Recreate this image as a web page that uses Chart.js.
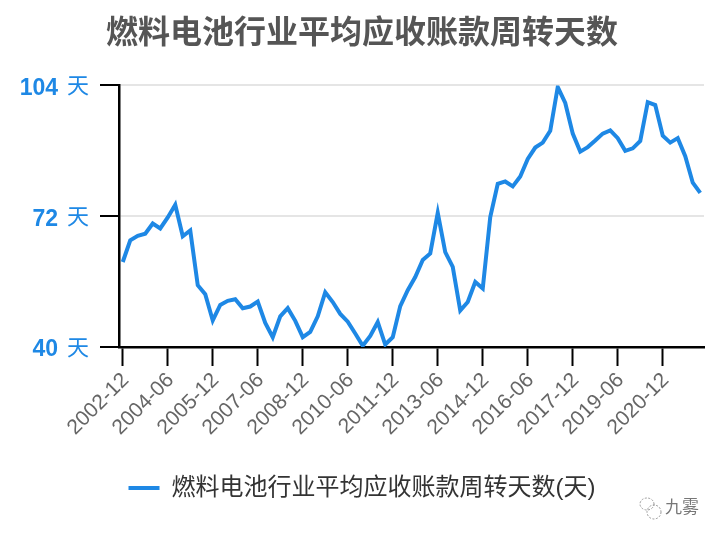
<!DOCTYPE html>
<html>
<head>
<meta charset="utf-8">
<title>燃料电池行业平均应收账款周转天数</title>
<script src="https://cdn.jsdelivr.net/npm/chart.js@4/dist/chart.umd.min.js"></script>
<style>
  html, body { margin: 0; padding: 0; background: #fff; }
  canvas { display: block; }
</style>
</head>
<body>
<canvas id="chart" width="724" height="540"></canvas>
<script>
const titleText = '燃料电池行业平均应收账款周转天数';
const seriesName = '燃料电池行业平均应收账款周转天数(天)';
const unitText = '天';
const watermark = '九雾';

const quarters = [
    '2002-12',
    '2003-03', '2003-06', '2003-09', '2003-12',
    '2004-03', '2004-06', '2004-09', '2004-12',
    '2005-03', '2005-06', '2005-09', '2005-12',
    '2006-03', '2006-06', '2006-09', '2006-12',
    '2007-03', '2007-06', '2007-09', '2007-12',
    '2008-03', '2008-06', '2008-09', '2008-12',
    '2009-03', '2009-06', '2009-09', '2009-12',
    '2010-03', '2010-06', '2010-09', '2010-12',
    '2011-03', '2011-06', '2011-09', '2011-12',
    '2012-03', '2012-06', '2012-09', '2012-12',
    '2013-03', '2013-06', '2013-09', '2013-12',
    '2014-03', '2014-06', '2014-09', '2014-12',
    '2015-03', '2015-06', '2015-09', '2015-12',
    '2016-03', '2016-06', '2016-09', '2016-12',
    '2017-03', '2017-06', '2017-09', '2017-12',
    '2018-03', '2018-06', '2018-09', '2018-12',
    '2019-03', '2019-06', '2019-09', '2019-12',
    '2020-03', '2020-06', '2020-09', '2020-12',
    '2021-03', '2021-06', '2021-09', '2021-12',
    '2022-03'
];

const turnoverDays = [
    60.8, 66.1, 67.2, 67.7, 70.2, 69.0, 71.7, 74.8, 67.1, 68.5,
    55.1, 52.9, 46.5, 50.3, 51.3, 51.7, 49.5, 49.9, 51.1, 45.9,
    42.4, 47.5, 49.5, 46.4, 42.4, 43.7, 47.5, 53.4, 51.0, 48.1,
    46.2, 43.3, 40.3, 42.7, 46.1, 40.6, 42.4, 50.0, 53.9, 57.1,
    61.3, 62.9, 72.8, 63.2, 59.6, 48.9, 51.0, 55.9, 54.3, 71.8,
    79.9, 80.5, 79.3, 81.7, 86.0, 88.8, 90.0, 92.9, 103.6, 99.7,
    92.2, 87.8, 88.9, 90.5, 92.2, 93.0, 91.1, 88.0, 88.6, 90.4,
    99.9, 99.2, 91.7, 90.0, 91.1, 86.7, 80.2, 77.7
];

const FONT = "'Liberation Sans', 'Noto Sans CJK SC', sans-serif";
const BLUE = '#1e88e5';

// 天 sits apart from the bold number and is lighter, so it is drawn after the axis
const extrasPlugin = {
    id: 'extras',
    afterDraw(chart) {
        const ctx = chart.ctx;
        const y = chart.scales.y;
        ctx.save();
        ctx.fillStyle = BLUE;
        ctx.font = "22px " + FONT;
        ctx.textAlign = 'left';
        ctx.textBaseline = 'middle';
        y.ticks.forEach(t => {
            ctx.fillText(unitText, 67, y.getPixelForValue(t.value) + 2);
        });

        // watermark
        ctx.fillStyle = '#777';
        ctx.font = "17px " + FONT;
        ctx.textBaseline = 'middle';
        ctx.fillText(watermark, 665, 508);
        ctx.strokeStyle = '#999';
        ctx.lineWidth = 1;
        ctx.setLineDash([2, 1.5]);
        ctx.beginPath();
        ctx.ellipse(647, 504, 7, 6, 0, 0, Math.PI * 2);
        ctx.stroke();
        ctx.beginPath();
        ctx.ellipse(654, 512, 7, 7, 0, 0, Math.PI * 2);
        ctx.stroke();
        ctx.restore();
    }
};

new Chart(document.getElementById('chart').getContext('2d'), {
    type: 'line',
    data: {
        labels: quarters,
        datasets: [{
            label: seriesName,
            data: turnoverDays,
            borderColor: BLUE,
            backgroundColor: BLUE,
            borderWidth: 4,
            pointRadius: 0,
            tension: 0
        }]
    },
    plugins: [extrasPlugin],
    options: {
        responsive: false,
        animation: false,
        layout: { padding: { top: 0, right: 20, bottom: 30, left: 20 } },
        plugins: {
            title: {
                display: true,
                text: titleText,
                color: '#555',
                font: { family: FONT, size: 32, weight: 'bold' },
                padding: { top: 15, bottom: 32 }
            },
            legend: {
                display: true,
                position: 'bottom',
                labels: {
                    color: '#333',
                    font: { family: FONT, size: 24 },
                    boxWidth: 31,
                    boxHeight: 4,
                    padding: 10,
                    // flat swatch, without the dataset's stroke round it
                    generateLabels: function(chart) {
                        return Chart.defaults.plugins.legend.labels.generateLabels(chart)
                            .map(item => ({ ...item, lineWidth: 0 }));
                    }
                }
            },
            tooltip: { enabled: false }
        },
        scales: {
            x: {
                offset: true,
                border: { color: '#000', width: 2.5 },
                grid: {
                    drawOnChartArea: false,
                    offset: false,
                    tickColor: '#000',
                    tickLength: 19,
                    tickWidth: 2
                },
                ticks: {
                    autoSkip: false,
                    maxRotation: 45,
                    minRotation: 45,
                    color: '#666',
                    font: { family: FONT, size: 21 },
                    padding: 2,
                    labelOffset: 3,
                    callback: function(value, index) {
                        return index % 6 === 0 ? quarters[index] : null;
                    }
                },
                afterFit: function(scale) { scale.height = 119; }
            },
            y: {
                min: 40,
                max: 104,
                border: { color: '#000', width: 2.5 },
                grid: {
                    color: '#e5e5e5',
                    lineWidth: 2,
                    tickColor: '#000',
                    tickLength: 19,
                    tickWidth: 2
                },
                ticks: {
                    stepSize: 32,
                    color: BLUE,
                    font: { family: FONT, size: 23, weight: 'bold', lineHeight: '6px' },
                    padding: 42,
                    // empty first line pushes the number just below the tick mark
                    callback: function(value) { return ['', String(value)]; }
                },
                afterFit: function(scale) { scale.width = 99; }
            }
        }
    }
});
</script>
</body>
</html>
